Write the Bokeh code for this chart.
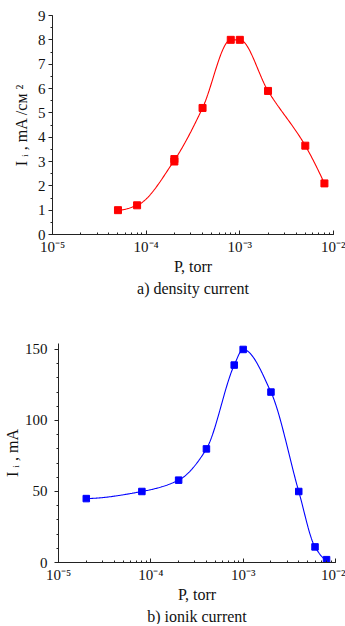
import numpy as np
from bokeh.plotting import figure
from bokeh.layouts import column
from bokeh.models import Range1d, LogTicker, SingleIntervalTicker, CustomJSTickFormatter, Title
from bokeh.embed import file_html
from bokeh.resources import INLINE

# ---- data ----
p_a = [5e-5, 8e-5, 2e-4, 2e-4, 4e-4, 8e-4, 1e-3, 2e-3, 5e-3, 8e-3]
j_a = [1.0, 1.2, 3.0, 3.1, 5.2, 8.0, 8.0, 5.9, 3.65, 2.1]
p_b = [2e-5, 8e-5, 2e-4, 4e-4, 8e-4, 1e-3, 2e-3, 4e-3, 6e-3, 8e-3]
i_b = [45, 50, 58, 80, 139, 150, 120, 50, 11, 2]

FONT = "Liberation Serif"


def pchip(x, y, n=300):
    x = np.asarray(x, float)
    y = np.asarray(y, float)
    ux = np.unique(x)
    uy = np.array([y[x == v].mean() for v in ux])
    k = len(ux)
    h = np.diff(ux)
    dl = np.diff(uy) / h
    m = np.zeros(k)
    for i in range(1, k - 1):
        if dl[i - 1] * dl[i] > 0:
            w1 = 2 * h[i] + h[i - 1]
            w2 = h[i] + 2 * h[i - 1]
            m[i] = (w1 + w2) / (w1 / dl[i - 1] + w2 / dl[i])

    def endpoint(h0, h1, d0, d1):
        v = ((2 * h0 + h1) * d0 - h0 * d1) / (h0 + h1)
        if np.sign(v) != np.sign(d0):
            v = 0.0
        elif np.sign(d0) != np.sign(d1) and abs(v) > abs(3 * d0):
            v = 3 * d0
        return v

    m[0] = endpoint(h[0], h[1], dl[0], dl[1])
    m[-1] = endpoint(h[-1], h[-2], dl[-1], dl[-2])
    xs = np.linspace(ux[0], ux[-1], n)
    idx = np.clip(np.searchsorted(ux, xs) - 1, 0, k - 2)
    t = (xs - ux[idx]) / h[idx]
    h00 = 2 * t ** 3 - 3 * t ** 2 + 1
    h10 = t ** 3 - 2 * t ** 2 + t
    h01 = -2 * t ** 3 + 3 * t ** 2
    h11 = t ** 3 - t ** 2
    ys = (h00 * uy[idx] + h10 * h[idx] * m[idx] + h01 * uy[idx + 1]
          + h11 * h[idx] * m[idx + 1])
    return xs, ys


def log_curve(px, py):
    lx, ys = pchip(np.log10(px), py)
    return 10 ** lx, ys


sup_fmt = CustomJSTickFormatter(code="""
const e = Math.round(Math.log10(tick));
const m = {'-':'\u207b','0':'\u2070','1':'\u00b9','2':'\u00b2','3':'\u00b3','4':'\u2074','5':'\u2075','6':'\u2076','7':'\u2077','8':'\u2078','9':'\u2079'};
return '10' + String(e).split('').map(c => m[c]).join('');
""")


def make_fig(y_end, ytick, yminor, ylabel, ystand, yl_stand, yl_offset, caption, color, msize,
             px, py, fw, left, right, top, bottom):
    p = figure(x_axis_type="log", frame_width=fw, frame_height=219,
               x_range=Range1d(1e-5, 1e-2), y_range=Range1d(0, y_end),
               output_backend="svg", toolbar_location=None,
               min_border_left=left, min_border_right=right,
               min_border_top=top, min_border_bottom=bottom)
    p.frame_align = False
    p.outline_line_color = None
    p.grid.visible = False
    p.background_fill_color = "white"
    p.border_fill_color = "white"

    xa = p.xaxis[0]
    xa.ticker = LogTicker(mantissas=[1], num_minor_ticks=10)
    xa.formatter = sup_fmt
    xa.major_tick_in = 4
    xa.major_tick_out = 0
    xa.minor_tick_in = 2
    xa.minor_tick_out = 0
    xa.axis_label = "P, torr"

    ya = p.yaxis[0]
    ya.ticker = SingleIntervalTicker(interval=ytick, num_minor_ticks=yminor)
    ya.major_tick_in = 0
    ya.major_tick_out = 4
    ya.minor_tick_in = 0
    ya.minor_tick_out = 2

    for ax in (xa, ya):
        ax.axis_line_color = "#222222"
        ax.major_tick_line_color = "#222222"
        ax.minor_tick_line_color = "#222222"
        ax.major_label_text_font = FONT
        ax.major_label_text_font_size = "15px"
        ax.major_label_text_color = "#111111"
        ax.axis_label_text_font = FONT
        ax.axis_label_text_font_size = "16px"
        ax.axis_label_text_font_style = "normal"
        ax.axis_label_text_color = "#111111"
    xa.major_label_standoff = 4
    xa.axis_label_standoff = 0
    ya.major_label_standoff = ystand

    ytitle = Title(text=ylabel, align="center", offset=yl_offset, standoff=yl_stand,
                   text_font=FONT, text_font_size="16px", text_font_style="normal",
                   text_color="#111111")
    p.add_layout(ytitle, "left")

    cx, cy = log_curve(px, py)
    p.line(cx, cy, line_color=color, line_width=1.1)
    p.scatter(px, py, marker="square", size=msize, fill_color=color, line_color=color)

    t = Title(text=caption, align="center", text_font=FONT, text_font_size="16px",
              text_font_style="normal", text_color="#111111", standoff=0)
    p.add_layout(t, "below")
    return p


p1 = make_fig(9, 1, 2, "I \u1d62 , mA /см \u00b2", 3, 9, 10, "a) density current",
              "#ff0000", 7, p_a, j_a, fw=281, left=52, right=12, top=15, bottom=70)
p2 = make_fig(154.2, 50, 5, "I \u1d62 , mA", 7, 1, 2, "b) ionik current",
              "#0000ff", 6.5, p_b, i_b, fw=277, left=58, right=10, top=39, bottom=62)

layout = column(p1, p2, spacing=0)
open("out.html", "w").write(file_html(layout, INLINE))
